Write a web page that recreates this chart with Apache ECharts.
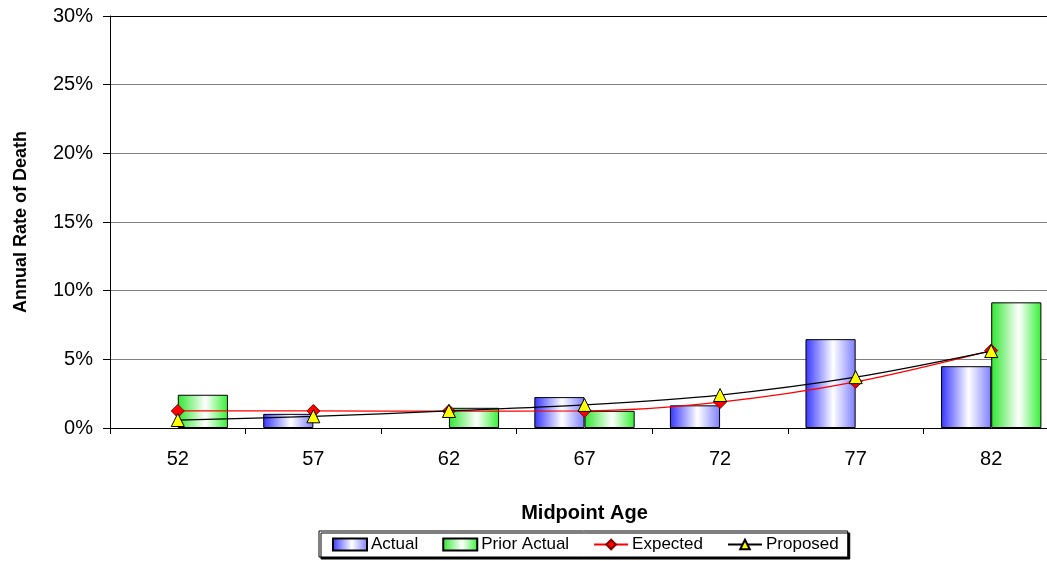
<!DOCTYPE html>
<html>
<head>
<meta charset="utf-8">
<script src="https://cdn.jsdelivr.net/npm/echarts@6/dist/echarts.min.js"></script>
<style>
  html, body { margin: 0; padding: 0; background: #fff; }
  #chart { width: 1047px; height: 561px; }
</style>
</head>
<body>
<div id="chart"></div>
<script>
// midpoint ages on the x axis
const ages = ['52', '57', '62', '67', '72', '77', '82']
// annual rate of death, in percent (null = no bar)
const actual = [null, 1.03, null, 2.25, 1.65, 6.47, 4.5]
const priorActual = [2.42, null, 1.47, 1.25, null, null, 9.15]
const expected = [1.24, 1.24, 1.23, 1.25, 1.89, 3.36, 5.64]
const proposed = [0.58, 0.85, 1.24, 1.68, 2.4, 3.7, 5.6]

const font = 'Arial, "Liberation Sans", sans-serif'

const barGradient = (edge, right) => ({
  type: 'linear', x: 0, y: 0, x2: 1, y2: 0,
  colorStops: [
    { offset: 0, color: edge },
    { offset: 0.55, color: '#ffffff' },
    { offset: 1, color: right },
  ],
})

const chart = echarts.init(document.getElementById('chart'))

const option = {
  animation: false,
  backgroundColor: '#fff',
  textStyle: { fontFamily: font },
  grid: {
    left: 110,
    top: 16,
    right: -12,
    bottom: 133,
    outerBoundsMode: 'none',
    containLabel: false,
  },
  legend: {
    left: 319,
    top: 531,
    padding: [5, 9, 4, 13],
    itemGap: 24,
    itemWidth: 34,
    itemHeight: 12,
    borderColor: '#000',
    borderWidth: 1,
    borderRadius: 0,
    backgroundColor: '#fff',
    shadowColor: '#000',
    shadowOffsetX: 2,
    shadowOffsetY: 2,
    textStyle: { fontSize: 17, color: '#000', fontFamily: font, padding: [0, 0, 0, -1] },
    data: [
      { name: 'Actual', icon: 'rect' },
      { name: 'Prior Actual', icon: 'rect' },
      'Expected',
      'Proposed',
    ],
  },
  xAxis: {
    type: 'category',
    data: ages,
    name: 'Midpoint Age',
    nameLocation: 'middle',
    nameGap: 75,
    nameTextStyle: { fontSize: 20, fontWeight: 'bold', color: '#000', fontFamily: font },
    axisLine: { lineStyle: { color: '#000', width: 1 } },
    axisTick: { show: true, length: 6, lineStyle: { color: '#000' } },
    axisLabel: { fontSize: 20, color: '#000', margin: 21, fontFamily: font },
  },
  yAxis: {
    type: 'value',
    min: 0,
    max: 30,
    interval: 5,
    name: 'Annual Rate of Death',
    nameLocation: 'middle',
    nameGap: 80,
    nameTextStyle: { fontSize: 18, fontWeight: 'bold', color: '#000', fontFamily: font },
    axisLine: { show: true, lineStyle: { color: '#000', width: 1 } },
    axisTick: { show: true, length: 7, lineStyle: { color: '#000' } },
    axisLabel: { fontSize: 20, color: '#000', margin: 17, formatter: '{value}%', fontFamily: font },
    splitLine: {
      lineStyle: {
        color: ['#808080', '#808080', '#808080', '#808080', '#808080', '#808080', '#000'],
        width: 1,
      },
    },
  },
  series: [
    {
      name: 'Actual',
      type: 'bar',
      data: actual,
      barGap: '0%',
      barCategoryGap: '26%',
      itemStyle: {
        color: barGradient('#3535ff', '#7d7dff'),
        borderColor: '#000',
        borderWidth: 1,
      },
      z: 2,
    },
    {
      name: 'Prior Actual',
      type: 'bar',
      data: priorActual,
      barGap: '0%',
      barCategoryGap: '26%',
      itemStyle: {
        color: barGradient('#2fe62f', '#33f033'),
        borderColor: '#000',
        borderWidth: 1,
      },
      z: 2,
    },
    {
      name: 'Expected',
      type: 'line',
      data: expected,
      smooth: 0.3,
      symbol: 'diamond',
      symbolSize: 13,
      lineStyle: { color: '#ff0000', width: 1.2 },
      itemStyle: { color: '#ff0000', borderColor: '#800000', borderWidth: 1 },
      z: 3,
    },
    {
      name: 'Proposed',
      type: 'line',
      data: proposed,
      smooth: 0.3,
      symbol: 'triangle',
      symbolSize: 13,
      lineStyle: { color: '#000', width: 1.2 },
      itemStyle: { color: '#ffff00', borderColor: '#000', borderWidth: 1 },
      z: 4,
    },
  ],
}

option && chart.setOption(option)
</script>
</body>
</html>
